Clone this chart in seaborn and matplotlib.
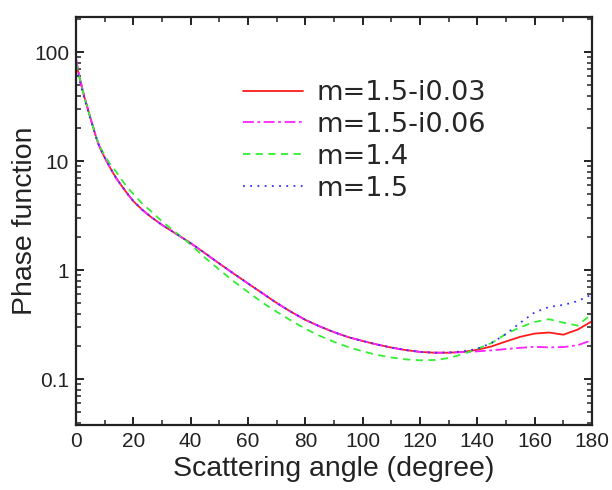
import numpy as np
import pandas as pd
import seaborn as sns
import matplotlib
matplotlib.use("Agg")
import matplotlib.pyplot as plt
from matplotlib.ticker import FixedLocator, MultipleLocator, LogLocator, FuncFormatter, NullFormatter

angles = [0, 1, 2, 3, 4, 5, 6, 7, 8, 9, 10, 12, 14, 16, 18, 20, 23, 26, 30, 35, 40, 45,
          50, 55, 60, 65, 70, 75, 80, 85, 90, 95, 100, 105, 110, 115, 120, 125, 130,
          135, 140, 145, 150, 155, 160, 165, 170, 175, 180]

red = [80, 62, 48, 38, 31, 25, 20.5, 16.6, 14, 12.2, 10.8, 8.6, 7.0, 5.9, 5.0, 4.3, 3.6,
       3.1, 2.6, 2.15, 1.77, 1.43, 1.15, 0.93, 0.755, 0.615, 0.50, 0.415, 0.35, 0.305,
       0.27, 0.243, 0.224, 0.208, 0.195, 0.185, 0.178, 0.175, 0.175, 0.178, 0.186, 0.200,
       0.222, 0.245, 0.262, 0.268, 0.256, 0.285, 0.34]

magenta = [88, 64, 49, 38.5, 31, 25, 20.5, 16.6, 14, 12.2, 10.8, 8.6, 7.0, 5.9, 5.0, 4.3,
           3.6, 3.1, 2.6, 2.15, 1.77, 1.43, 1.15, 0.93, 0.755, 0.615, 0.50, 0.415, 0.35,
           0.305, 0.27, 0.243, 0.224, 0.208, 0.195, 0.185, 0.178, 0.175, 0.175, 0.177,
           0.180, 0.184, 0.189, 0.194, 0.198, 0.196, 0.197, 0.205, 0.228]

green = [80, 62, 48, 38, 31, 25, 20.5, 16.8, 14.3, 12.6, 11.3, 9.3, 8.0, 6.7, 5.7, 5.0, 4.1,
         3.5, 2.8, 2.2, 1.72, 1.30, 1.01, 0.79, 0.63, 0.505, 0.415, 0.345, 0.29, 0.25,
         0.22, 0.197, 0.18, 0.167, 0.158, 0.152, 0.149, 0.150, 0.156, 0.170, 0.190, 0.215,
         0.26, 0.30, 0.335, 0.355, 0.33, 0.31, 0.40]

blue = [72, 58, 46, 37, 30, 24.5, 20.2, 16.5, 14, 12.2, 10.8, 8.6, 7.0, 5.9, 5.0, 4.3, 3.6,
        3.1, 2.6, 2.15, 1.77, 1.43, 1.15, 0.93, 0.755, 0.615, 0.50, 0.415, 0.35, 0.305,
        0.27, 0.243, 0.224, 0.208, 0.195, 0.185, 0.178, 0.175, 0.176, 0.180, 0.190, 0.215,
        0.26, 0.33, 0.41, 0.46, 0.48, 0.52, 0.60]

labels = ["m=1.5-i0.03", "m=1.5-i0.06", "m=1.4", "m=1.5"]
series = [red, magenta, green, blue]
colors = ["#ff1a1a", "#ff22ff", "#33ee33", "#3333ff"]
styles = ["-", (0, (6, 2, 1.5, 2)), (0, (4, 3)), (0, (1, 3))]

sns.set_style("ticks")
plt.rcParams["font.family"] = ["Liberation Sans", "DejaVu Sans"]

fig = plt.figure(figsize=(6.12, 4.90), dpi=100)
ax = fig.add_axes([76 / 612, 1 - 425 / 490, (592 - 76) / 612, (425 - 17) / 490])

for lab, vals, c, ls in zip(labels, series, colors, styles):
    df = pd.DataFrame({"angle": angles, "value": vals})
    sns.lineplot(data=df, x="angle", y="value", ax=ax, color=c, linestyle=ls,
                 linewidth=1.3, label=lab)

ax.set_yscale("log")
ax.set_xlim(0, 180)
ax.set_ylim(0.038, 210)

ax.xaxis.set_major_locator(MultipleLocator(20))
ax.xaxis.set_minor_locator(MultipleLocator(10))
ax.yaxis.set_major_locator(FixedLocator([0.1, 1, 10, 100]))
ax.yaxis.set_minor_locator(LogLocator(base=10, subs=np.arange(2, 10)))
ax.yaxis.set_major_formatter(FuncFormatter(lambda v, p: f"{v:g}"))
ax.yaxis.set_minor_formatter(NullFormatter())

ax.tick_params(which="both", direction="in", top=True, right=True, color="#222222",
               labelcolor="#222222")
ax.tick_params(which="major", length=6, width=1.4, labelsize=15, pad=5)
ax.tick_params(which="minor", length=3.5, width=1.1)
for s in ax.spines.values():
    s.set_linewidth(1.6)
    s.set_color("#222222")

ax.set_xlabel("Scattering angle (degree)", fontsize=20.5, color="#222222", labelpad=4)
ax.set_ylabel("Phase function", fontsize=20.5, color="#222222", labelpad=-3)

leg = ax.legend(loc="upper left", bbox_to_anchor=(243 / 612, 1 - 80 / 490),
                bbox_transform=fig.transFigure, frameon=False, borderpad=0,
                borderaxespad=0, handlelength=2.2, handletextpad=0.5,
                labelspacing=0.22, prop={"family": "DejaVu Sans", "size": 19.5})

fig.savefig("out.png", dpi=100)
